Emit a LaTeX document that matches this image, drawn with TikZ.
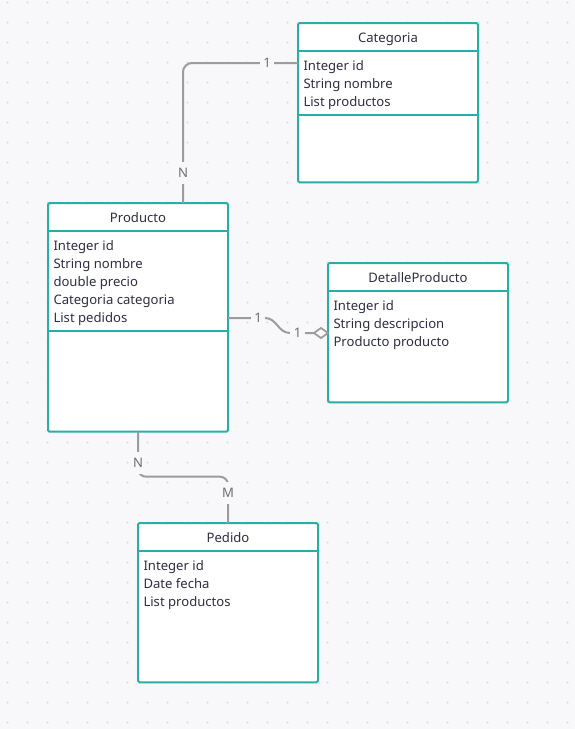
\documentclass[tikz,border=0pt]{standalone}
\usepackage{fontspec}
\setmainfont{Noto Sans}
\usetikzlibrary{arrows.meta}
\definecolor{bgc}{HTML}{F8F8FA}
\definecolor{dotc}{HTML}{DCDCE0}
\definecolor{tealc}{HTML}{2AADA8}
\definecolor{connc}{HTML}{9C9C9C}
\definecolor{txtc}{HTML}{2E2E42}
\definecolor{lblc}{HTML}{6E6E6E}
\begin{document}
\begin{tikzpicture}[x=1pt,y=-1pt,
  box/.style={draw=tealc, line width=2pt, fill=white, rounded corners=1.5pt, minimum width=180pt, inner sep=0pt, outer sep=0pt, anchor=north west},
  divider/.style={draw=tealc, line width=2pt},
  title/.style={font=\fontsize{13.1}{15}\selectfont, text=txtc, anchor=base, inner sep=0pt},
  attr/.style={font=\fontsize{13.1}{15}\selectfont, text=txtc, anchor=base west, inner sep=0pt},
  conn/.style={draw=connc, line width=2pt},
  lbl/.style={font=\fontsize{13.1}{15}\selectfont, text=lblc, fill=bgc, inner xsep=3.5pt, inner ysep=6pt}
]
\fill[bgc] (0,0) rectangle (575,729);
\useasboundingbox (0,0) rectangle (575,729);
\foreach \i in {0,...,28}{
  \foreach \j in {0,...,36}{
    \fill[dotc] (7.5+20*\i, 2.5+20*\j) circle (1.1pt);
  }
}

% Boxes
\node[box, minimum height=159.3pt] (cat) at (298,23) {};
\node[box, minimum height=228.7pt] (prod) at (48,203) {};
\node[box, minimum height=139.3pt] (det) at (328,263) {};
\node[box, minimum height=159.3pt] (ped) at (138,523) {};

% Dividers
\draw[divider] ([yshift=-27.7pt]cat.north west) -- ([yshift=-27.7pt]cat.north east);
\draw[divider] ([yshift=-91.5pt]cat.north west) -- ([yshift=-91.5pt]cat.north east);
\draw[divider] ([yshift=-27.7pt]prod.north west) -- ([yshift=-27.7pt]prod.north east);
\draw[divider] ([yshift=-128pt]prod.north west) -- ([yshift=-128pt]prod.north east);
\draw[divider] ([yshift=-27.7pt]det.north west) -- ([yshift=-27.7pt]det.north east);
\draw[divider] ([yshift=-27.7pt]ped.north west) -- ([yshift=-27.7pt]ped.north east);

% Titles
\node[title] (catT) at ([yshift=-19.3pt]cat.north) {Categoria};
\node[title] (prodT) at ([yshift=-19.3pt]prod.north) {Producto};
\node[title] (detT) at ([yshift=-19.3pt]det.north) {DetalleProducto};
\node[title] (pedT) at ([yshift=-19.3pt]ped.north) {Pedido};

% Attributes
\node[attr] (cat1) at ([xshift=5.3pt,yshift=-47.7pt]cat.north west) {Integer id};
\node[attr] (cat2) at ([yshift=-18pt]cat1.base west) {String nombre};
\node[attr] (cat3) at ([yshift=-18pt]cat2.base west) {List productos};

\node[attr] (prod1) at ([xshift=5.3pt,yshift=-47.7pt]prod.north west) {Integer id};
\node[attr] (prod2) at ([yshift=-18pt]prod1.base west) {String nombre};
\node[attr] (prod3) at ([yshift=-18pt]prod2.base west) {double precio};
\node[attr] (prod4) at ([yshift=-18pt]prod3.base west) {Categoria categoria};
\node[attr] (prod5) at ([yshift=-18pt]prod4.base west) {List pedidos};

\node[attr] (det1) at ([xshift=5.3pt,yshift=-47.7pt]det.north west) {Integer id};
\node[attr] (det2) at ([yshift=-18pt]det1.base west) {String descripcion};
\node[attr] (det3) at ([yshift=-18pt]det2.base west) {Producto producto};

\node[attr] (ped1) at ([xshift=5.3pt,yshift=-47.7pt]ped.north west) {Integer id};
\node[attr] (ped2) at ([yshift=-18pt]ped1.base west) {Date fecha};
\node[attr] (ped3) at ([yshift=-18pt]ped2.base west) {List productos};

% Connectors
\draw[conn, rounded corners=9pt] ([xshift=-45pt]prod.north east) |- ([yshift=-40pt]cat.north west);
\draw[conn]
  ([yshift=-115pt]prod.north east) -- (265,318) .. controls (277,318) and (278,333) .. (290,333)
  -- ([xshift=-14pt,yshift=-70pt]det.north west);
\draw[conn, line width=1.8pt, fill=white, line join=miter] ([yshift=-70pt]det.north west) coordinate (dtip)
  -- ++(-7,-5) -- ++(-7,5) -- ++(7,5) -- cycle;
\draw[conn, rounded corners=8pt] ([xshift=90pt]prod.south west) -- ++(0,45) -| ([xshift=90pt]ped.north west);

% Labels
\node[lbl] (l1) at (183,173) {N};
\node[lbl] (l2) at (267,63) {1};
\node[lbl] (l3) at (258,318) {1};
\node[lbl] (l4) at (297.5,333) {1};
\node[lbl] (l5) at (138,463) {N};
\node[lbl] (l6) at (228,493) {M};
\end{tikzpicture}
\end{document}
